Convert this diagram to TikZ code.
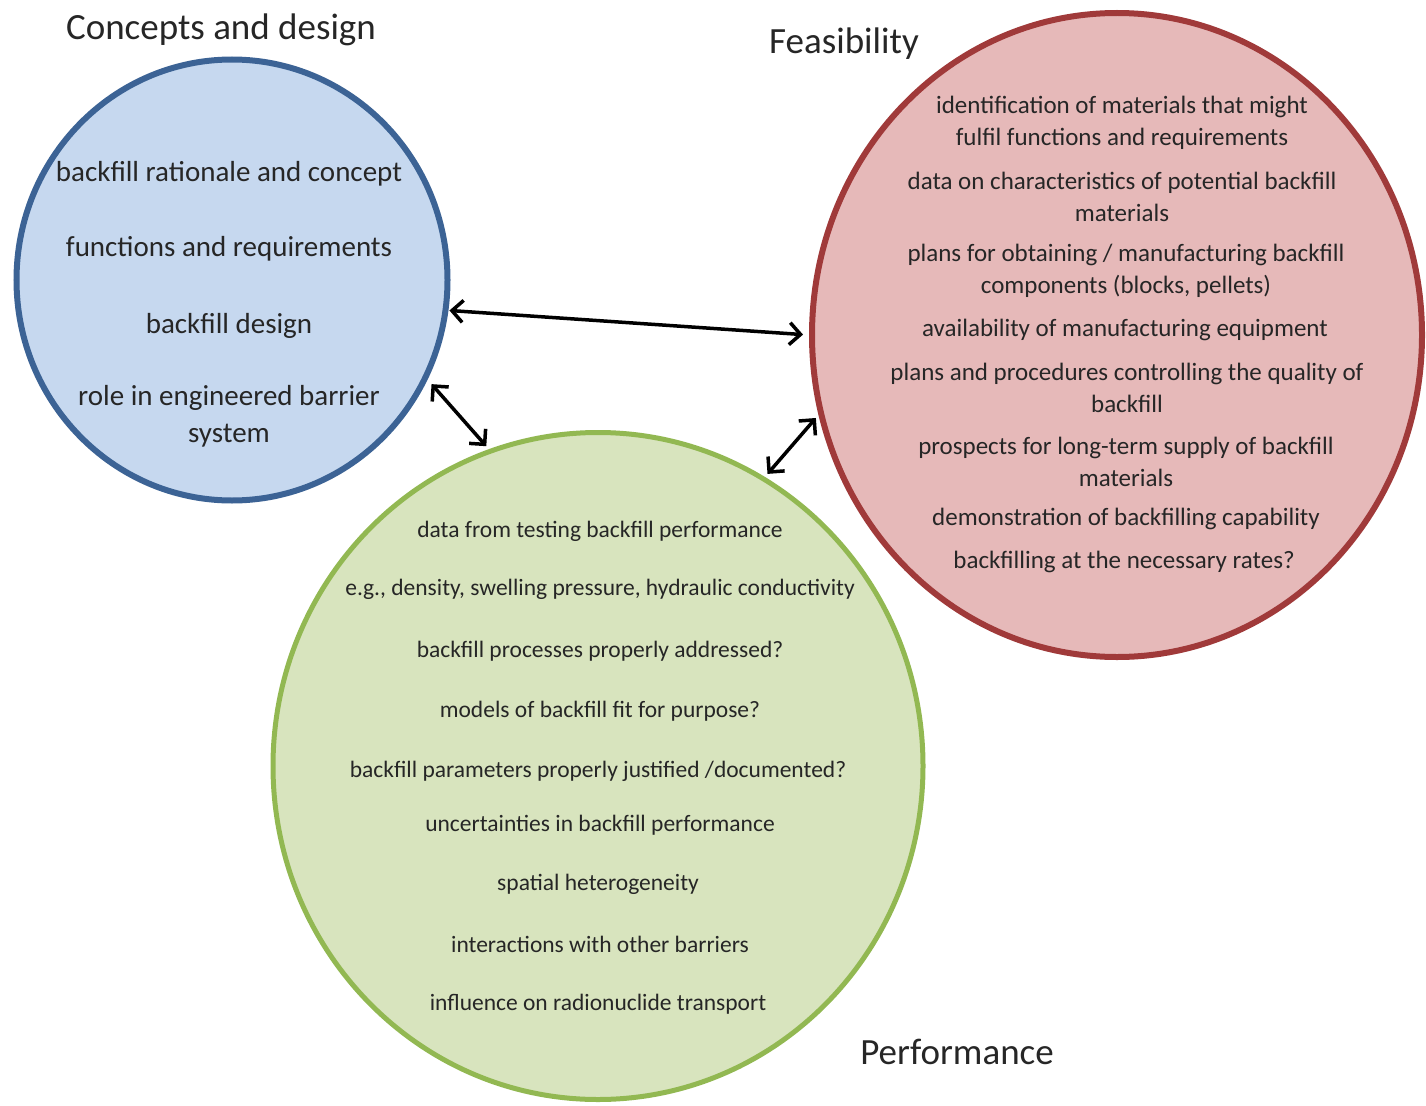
\documentclass[tikz,border=0pt]{standalone}
\usepackage{fontspec}
\setmainfont{Carlito}
\usetikzlibrary{shapes.geometric,arrows.meta}
\definecolor{blueFill}{HTML}{C6D8EF}
\definecolor{bluePen}{HTML}{3C6395}
\definecolor{redFill}{HTML}{E6B9B9}
\definecolor{redPen}{HTML}{A03A3A}
\definecolor{greenFill}{HTML}{D8E4BE}
\definecolor{greenPen}{HTML}{92B852}
\colorlet{penText}{black!85}
\tikzset{
  >={Straight Barb[length=11pt,width=22pt]},
  zone/.style={ellipse, inner sep=0pt},
  heading/.style={font=\fontsize{37}{44}\selectfont, text=penText},
  conceptText/.style={font=\fontsize{29}{37}\selectfont, align=center, text=penText},
  feasText/.style={font=\fontsize{25}{32}\selectfont, align=center, text=penText},
  perfText/.style={font=\fontsize{23.5}{28}\selectfont, text=penText},
  link/.style={<->, line width=3.5pt, black}
}

\begin{document}
\begin{tikzpicture}[x=1pt,y=-1pt]
\useasboundingbox (0,0) rectangle (1426,1105);

\node[zone, draw=bluePen, line width=6pt, fill=blueFill, minimum width=431pt, minimum height=441pt] (concepts) at (232,280) {};
\node[zone, draw=redPen, line width=6pt, fill=redFill, minimum width=610pt, minimum height=644pt] (feas) at (1117,335) {};
\node[zone, draw=greenPen, line width=5pt, fill=greenFill, minimum width=650pt, minimum height=667pt] (perf) at (598,766) {};

\node[heading] (conceptsTitle) at (221,30) {Concepts and design};
\node[heading] (feasTitle) at (844,44) {Feasibility};
\node[heading] (perfTitle) at (957,1052) {Performance};

% concepts and design
\node[conceptText] (c1) at (229,174) {backfill rationale and concept};
\node[conceptText] (c2) at (229,249) {functions and requirements};
\node[conceptText] (c3) at (229,326) {backfill design};
\node[conceptText] (c4) at (229,416) {role in engineered barrier\\system};

% feasibility
\node[feasText] (f1) at (1122,123) {identification of materials that might\\fulfil functions and requirements};
\node[feasText] (f2) at (1122,197) {data on characteristics of potential backfill\\materials};
\node[feasText] (f3) at (1126,271) {plans for obtaining / manufacturing backfill\\components (blocks, pellets)};
\node[feasText] (f4) at (1125,330) {availability of manufacturing equipment};
\node[feasText] (f5) at (1127,388) {plans and procedures controlling the quality of\\backfill};
\node[feasText] (f6) at (1126,462) {prospects for long-term supply of backfill\\materials};
\node[feasText] (f7) at (1126,519) {demonstration of backfilling capability};
\node[feasText] (f8) at (1124,562) {backfilling at the necessary rates?};

% performance
\node[perfText] (p1) at (600,531) {data from testing backfill performance};
\node[perfText] (p2) at (600,589) {e.g., density, swelling pressure, hydraulic conductivity};
\node[perfText] (p3) at (600,651) {backfill processes properly addressed?};
\node[perfText] (p4) at (600,711) {models of backfill fit for purpose?};
\node[perfText] (p5) at (598,771) {backfill parameters properly justified /documented?};
\node[perfText] (p6) at (600,825) {uncertainties in backfill performance};
\node[perfText] (p7) at (598,884) {spatial heterogeneity};
\node[perfText] (p8) at (600,944) {interactions with other barriers};
\node[perfText] (p9) at (598,1004) {influence on radionuclide transport};

\draw[link, shorten <=1pt, shorten >=6pt] (concepts.-8) -- (feas.180);
\draw[link, shorten <=6pt, shorten >=4pt] (concepts.-27) -- (perf.109.5);
\draw[link, shorten <=4pt, shorten >=4pt] (feas.195.5) -- (perf.60.8);
\end{tikzpicture}
\end{document}
